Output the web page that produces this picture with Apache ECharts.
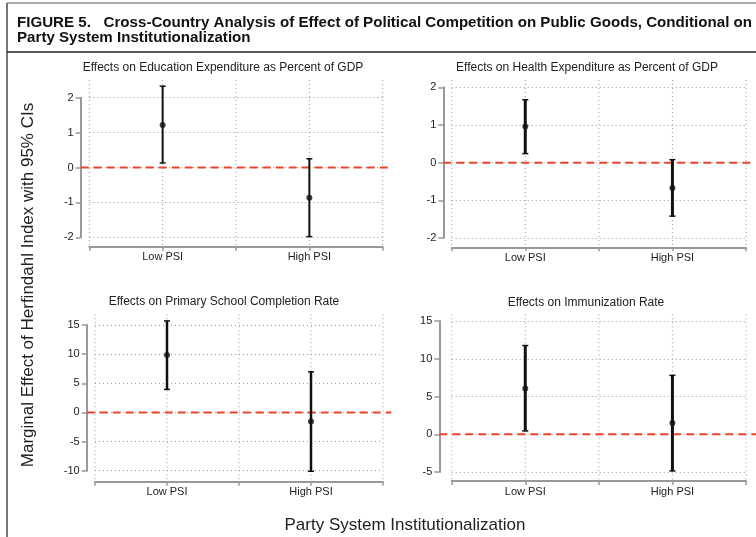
<!DOCTYPE html>
<html>
<head>
<meta charset="utf-8">
<script src="https://cdn.jsdelivr.net/npm/echarts@6/dist/echarts.min.js"></script>
<style>
  html, body { margin: 0; padding: 0; background: #fff; }
  #main { width: 756px; height: 537px; }
</style>
</head>
<body>
<div id="main"></div>
<script>
// categories on the x axis and where they sit
var categories = ['Low PSI', 'High PSI'];
var catPos = [1, 2];
var xTicks = [0.5, 1, 1.5, 2, 2.5];
var zeroLine = [0];

var figTitle1 = 'FIGURE 5.   Cross-Country Analysis of Effect of Political Competition on Public Goods, Conditional on';
var figTitle2 = 'Party System Institutionalization';
var panelTitles = [
    'Effects on Education Expenditure as Percent of GDP',
    'Effects on Health Expenditure as Percent of GDP',
    'Effects on Primary School Completion Rate',
    'Effects on Immunization Rate'
];

// point estimates and 95% CI bounds (Low PSI, High PSI)
var eduEst = [1.22, -0.87];
var eduLo = [0.13, -1.98];
var eduHi = [2.33, 0.25];

var healthEst = [0.96, -0.67];
var healthLo = [0.24, -1.42];
var healthHi = [1.67, 0.08];

var primaryEst = [9.85, -1.55];
var primaryLo = [3.95, -10.1];
var primaryHi = [15.7, 6.97];

var immunEst = [6.05, 1.5];
var immunLo = [0.44, -4.86];
var immunHi = [11.75, 7.8];

// y tick ranges
var yMin = [-2, -2, -10, -5];
var yMax = [2, 2, 15, 15];
var yStep = [1, 1, 5, 5];

var estAll = [eduEst, healthEst, primaryEst, immunEst];
var loAll = [eduLo, healthLo, primaryLo, immunLo];
var hiAll = [eduHi, healthHi, primaryHi, immunHi];

// panel layout (px)
var layout = [
    {left: 89.3, top: 97.7, w: 293.4, h: 139.6, yOff: 8.6, xOff: 9.4, topExt: 17.7, tx: 223, ty: 68, bw: 2},
    {left: 451.7, top: 87.3, w: 294.3, h: 150.7, yOff: 8.4, xOff: 9.3, topExt: 7.3, tx: 587, ty: 68, bw: 3},
    {left: 95, top: 325, w: 288, h: 145.7, yOff: 8.3, xOff: 11, topExt: 10.7, tx: 224, ty: 302, bw: 2.5},
    {left: 451.7, top: 321, w: 294.3, h: 151, yOff: 12.4, xOff: 9, topExt: 6.7, tx: 586, ty: 303, bw: 3}
];

var font = "'Liberation Sans', Arial, Helvetica, sans-serif";
var titleFont = 'bold 15px ' + font;

// squeeze the figure title so line 1 spans the same width as the original
var ctx = document.createElement('canvas').getContext('2d');
ctx.font = titleFont;
var titleScale = 735 / ctx.measureText(figTitle1).width;

var myChart = echarts.init(document.getElementById('main'));

var grids = [], xAxes = [], yAxes = [], series = [], graphics = [];

layout.forEach(function (L, i) {
    grids.push({left: L.left, top: L.top, width: L.w, height: L.h});
    xAxes.push({
        type: 'value', gridIndex: i, min: 0.5, max: 2.5, interval: 0.5, offset: L.xOff,
        axisLine: {show: true, onZero: false, lineStyle: {color: '#999', width: 2}},
        axisTick: {show: true, length: 4, lineStyle: {color: '#999', width: 1.5}},
        axisLabel: {
            color: '#222', fontSize: 11, fontFamily: font, margin: 5,
            formatter: function (v) {
                var k = catPos.indexOf(v);
                return k >= 0 ? categories[k] : '';
            }
        },
        splitLine: {show: false}
    });
    yAxes.push({
        type: 'value', gridIndex: i, min: yMin[i], max: yMax[i], interval: yStep[i], offset: L.yOff,
        axisLine: {show: true, onZero: false, lineStyle: {color: '#999', width: 2}},
        axisTick: {show: true, length: 5, lineStyle: {color: '#999', width: 1.5}},
        axisLabel: {color: '#222', fontSize: 11, fontFamily: font, margin: 7},
        splitLine: {show: true, lineStyle: {color: '#999', width: 1, type: [1, 3]}}
    });

    // vertical dotted grid lines over the whole plot region
    series.push({
        type: 'custom', xAxisIndex: i, yAxisIndex: i, z: 1, silent: true,
        data: xTicks.map(function (v) { return [v, yMin[i]]; }),
        renderItem: function (params, api) {
            var x = api.value(0);
            var top = api.coord([x, yMax[i]]);
            var bot = api.coord([x, yMin[i]]);
            return {
                type: 'line',
                shape: {x1: top[0], y1: top[1] - L.topExt, x2: bot[0], y2: bot[1] + L.xOff},
                style: {stroke: '#999', lineWidth: 1, lineDash: [1, 3]}
            };
        }
    });

    // red dashed reference line at zero
    series.push({
        type: 'custom', xAxisIndex: i, yAxisIndex: i, z: 3, silent: true,
        data: zeroLine.map(function (v) { return [1.5, v]; }),
        renderItem: function (params, api) {
            var a = api.coord([0.5, api.value(1)]);
            var b = api.coord([2.5, api.value(1)]);
            return {
                type: 'line',
                shape: {x1: a[0] - L.yOff, y1: a[1], x2: b[0] + L.yOff, y2: b[1]},
                style: {stroke: '#e8462b', lineWidth: 2, lineDash: [8, 5]}
            };
        }
    });

    // error bars
    series.push({
        type: 'custom', xAxisIndex: i, yAxisIndex: i, z: 5, silent: true,
        data: catPos.map(function (x, k) { return [x, loAll[i][k], hiAll[i][k]]; }),
        renderItem: function (params, api) {
            var x = api.value(0);
            var hi = api.coord([x, api.value(2)]);
            var lo = api.coord([x, api.value(1)]);
            var c = 3;
            return {
                type: 'group',
                children: [
                    {type: 'line', shape: {x1: hi[0], y1: hi[1], x2: lo[0], y2: lo[1]},
                        style: {stroke: '#111', lineWidth: L.bw}},
                    {type: 'line', shape: {x1: hi[0] - c, y1: hi[1], x2: hi[0] + c, y2: hi[1]},
                        style: {stroke: '#111', lineWidth: 1.5}},
                    {type: 'line', shape: {x1: lo[0] - c, y1: lo[1], x2: lo[0] + c, y2: lo[1]},
                        style: {stroke: '#111', lineWidth: 1.5}}
                ]
            };
        }
    });

    // point estimates
    series.push({
        type: 'scatter', xAxisIndex: i, yAxisIndex: i, z: 6, clip: false, silent: true,
        symbol: 'circle', symbolSize: 6,
        itemStyle: {color: '#111'},
        data: catPos.map(function (x, k) { return [x, estAll[i][k]]; })
    });

    graphics.push({
        type: 'text', x: L.tx, y: L.ty,
        style: {text: panelTitles[i], fill: '#222', font: '12px ' + font, align: 'center', verticalAlign: 'middle'}
    });
});

// frame and figure title
graphics.push(
    {type: 'line', shape: {x1: 7, y1: 3, x2: 756, y2: 3}, style: {stroke: '#aaa', lineWidth: 2}},
    {type: 'line', shape: {x1: 7, y1: 3, x2: 7, y2: 537}, style: {stroke: '#777', lineWidth: 2}},
    {type: 'line', shape: {x1: 7, y1: 52, x2: 756, y2: 52}, style: {stroke: '#222', lineWidth: 1.5}},
    {
        type: 'text', x: 17, y: 23, scaleX: titleScale,
        style: {text: figTitle1, fill: '#111', font: titleFont, verticalAlign: 'middle'}
    },
    {
        type: 'text', x: 17, y: 38, scaleX: titleScale,
        style: {text: figTitle2, fill: '#111', font: titleFont, verticalAlign: 'middle'}
    },
    {
        type: 'text', x: 28, y: 285, rotation: Math.PI / 2,
        style: {
            text: 'Marginal Effect of Herfindahl Index with 95% CIs',
            fill: '#222', font: '17px ' + font, align: 'center', verticalAlign: 'middle'
        }
    },
    {
        type: 'text', x: 405, y: 525,
        style: {
            text: 'Party System Institutionalization',
            fill: '#222', font: '17px ' + font, align: 'center', verticalAlign: 'middle'
        }
    }
);

myChart.setOption({
    animation: false,
    grid: grids,
    xAxis: xAxes,
    yAxis: yAxes,
    series: series,
    graphic: graphics
});
</script>
</body>
</html>
